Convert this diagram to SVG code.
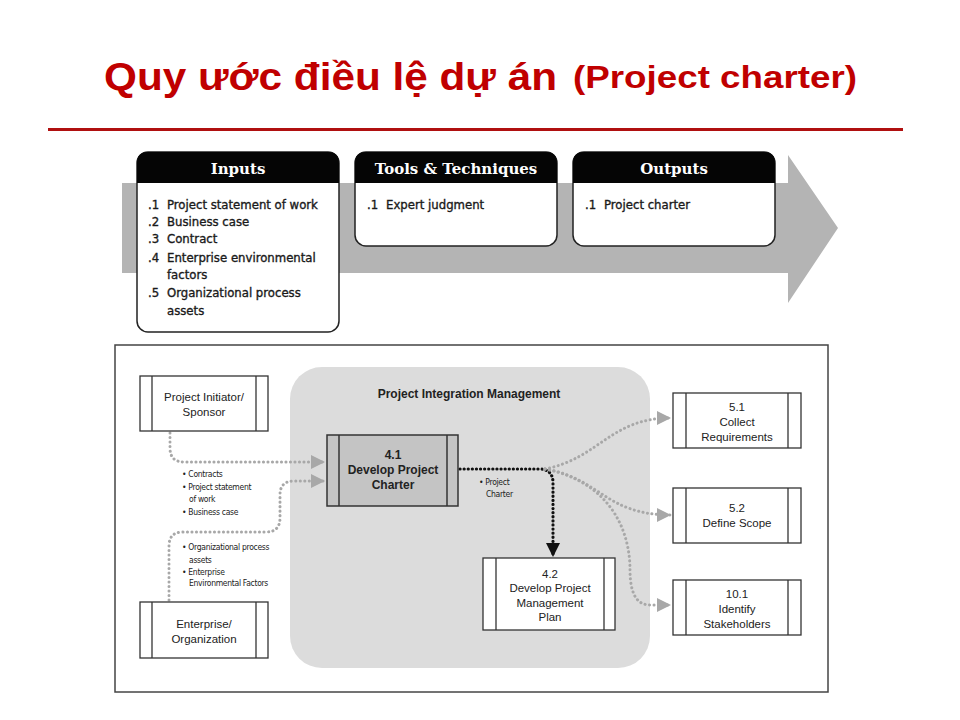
<svg xmlns="http://www.w3.org/2000/svg" width="960" height="720" viewBox="0 0 960 720">
<defs>
<style>
.title{font-family:"Liberation Sans",Arial,sans-serif;font-weight:bold;fill:#C00000}
.hdr{font-family:"DejaVu Serif",serif;font-weight:bold;font-size:15px;fill:#fff;text-anchor:middle}
.item{font-family:"DejaVu Sans Condensed","Liberation Sans",sans-serif;font-size:13px;fill:#1a1a1a;stroke:#1a1a1a;stroke-width:0.35}
.box{fill:#fff;stroke:#222;stroke-width:1.5}
.proc{fill:#fff;stroke:#333;stroke-width:1.3}
.lbl{font-family:"Liberation Sans",Arial,sans-serif;font-size:11.5px;fill:#222;text-anchor:middle}
.lblb{font-family:"Liberation Sans",Arial,sans-serif;font-size:12px;font-weight:bold;fill:#222;text-anchor:middle}
.small{font-family:"DejaVu Sans Condensed","Liberation Sans",sans-serif;font-size:8.5px;fill:#222;letter-spacing:-0.3px}
.gdot{fill:none;stroke:#a8a8a8;stroke-width:3;stroke-dasharray:0.1 4.4;stroke-linecap:round}
.bdot{fill:none;stroke:#111;stroke-width:3.2;stroke-dasharray:0.1 4;stroke-linecap:round}
</style>
<marker id="ga" viewBox="0 0 10 10" refX="10" refY="5" markerWidth="14" markerHeight="14" markerUnits="userSpaceOnUse" orient="auto"><path d="M0,0 L10,5 L0,10 z" fill="#a8a8a8"/></marker>
<marker id="ba" viewBox="0 0 10 10" refX="10" refY="5" markerWidth="14" markerHeight="14" markerUnits="userSpaceOnUse" orient="auto"><path d="M0,0 L10,5 L0,10 z" fill="#111"/></marker>
</defs>
<rect width="960" height="720" fill="#fff"/>

<g id="title">
<text x="104" y="90" class="title" font-size="39" textLength="453" lengthAdjust="spacingAndGlyphs">Quy ước điều lệ dự án</text>
<text x="573" y="88" class="title" font-size="31" textLength="284" lengthAdjust="spacingAndGlyphs">(Project charter)</text>
<rect x="48" y="128" width="855" height="3" fill="#B01010"/>
</g>

<g id="flow-arrow">
<path d="M122,183 L788,183 L788,155 L838,228 L788,303 L788,273 L122,273 z" fill="#b4b4b4"/>
</g>

<g id="inputs">
<rect x="137" y="152" width="202" height="180" rx="11" class="box"/>
<path d="M137,183 L137,163 Q137,152 148,152 L328,152 Q339,152 339,163 L339,183 z" fill="#050505"/>
<text x="238" y="174" class="hdr">Inputs</text>
<text class="item"><tspan x="148" y="209">.1</tspan><tspan x="167" y="209">Project statement of work</tspan></text>
<text class="item"><tspan x="148" y="226">.2</tspan><tspan x="167" y="226">Business case</tspan></text>
<text class="item"><tspan x="148" y="243">.3</tspan><tspan x="167" y="243">Contract</tspan></text>
<text class="item"><tspan x="148" y="262">.4</tspan><tspan x="167" y="262">Enterprise environmental</tspan></text>
<text class="item"><tspan x="167" y="279">factors</tspan></text>
<text class="item"><tspan x="148" y="297">.5</tspan><tspan x="167" y="297">Organizational process</tspan></text>
<text class="item"><tspan x="167" y="315">assets</tspan></text>
</g>

<g id="tools">
<rect x="355" y="152" width="202" height="94" rx="11" class="box"/>
<path d="M355,183 L355,163 Q355,152 366,152 L546,152 Q557,152 557,163 L557,183 z" fill="#050505"/>
<text x="456" y="174" class="hdr">Tools &amp; Techniques</text>
<text class="item"><tspan x="367" y="209">.1</tspan><tspan x="386" y="209">Expert judgment</tspan></text>
</g>

<g id="outputs">
<rect x="573" y="152" width="202" height="94" rx="11" class="box"/>
<path d="M573,183 L573,163 Q573,152 584,152 L764,152 Q775,152 775,163 L775,183 z" fill="#050505"/>
<text x="674" y="174" class="hdr">Outputs</text>
<text class="item"><tspan x="585" y="209">.1</tspan><tspan x="604" y="209">Project charter</tspan></text>
</g>

<g id="panel">
<rect x="115" y="345" width="713" height="347" fill="#fff" stroke="#444" stroke-width="1.5"/>
<rect x="290" y="367" width="360" height="301" rx="32" fill="#dcdcdc"/>
<text x="469" y="398" class="lblb" font-size="12.5">Project Integration Management</text>
</g>

<g id="connectors">
<path class="gdot" d="M170,433 L170,448 Q170,462 184,462 L325,462" marker-end="url(#ga)"/>
<path class="gdot" d="M169,600 L169,546 Q169,532 183,532 L266,532 Q280,532 280,518 L280,495 Q280,481 294,481 L325,481" marker-end="url(#ga)"/>
<path class="bdot" d="M460,469 L539,469 Q553,469 553,483 L553,557" marker-end="url(#ba)"/>
<path class="gdot" d="M545,469 C600,458 610,418 671,418" marker-end="url(#ga)"/>
<path class="gdot" d="M545,469 C600,478 605,515 671,515" marker-end="url(#ga)"/>
<path class="gdot" d="M545,469 C610,482 630,530 630,570 Q630,605 650,605 L671,605" marker-end="url(#ga)"/>
</g>

<g id="labels">
<text class="small"><tspan x="182" y="477">• Contracts</tspan></text>
<text class="small"><tspan x="182" y="490">• Project statement</tspan></text>
<text class="small"><tspan x="189" y="502">of work</tspan></text>
<text class="small"><tspan x="182" y="515">• Business case</tspan></text>
<text class="small"><tspan x="182" y="550">• Organizational process</tspan></text>
<text class="small"><tspan x="189" y="563">assets</tspan></text>
<text class="small"><tspan x="182" y="575">• Enterprise</tspan></text>
<text class="small"><tspan x="189" y="586">Environmental Factors</tspan></text>
<text class="small"><tspan x="479" y="485">• Project</tspan></text>
<text class="small"><tspan x="486" y="497">Charter</tspan></text>
</g>

<g id="initiator">
<rect x="140" y="376" width="128" height="55" class="proc"/>
<line x1="152" y1="376" x2="152" y2="431" stroke="#333" stroke-width="1.3"/>
<line x1="256" y1="376" x2="256" y2="431" stroke="#333" stroke-width="1.3"/>
<text class="lbl"><tspan x="204" y="401">Project Initiator/</tspan><tspan x="204" y="416">Sponsor</tspan></text>
</g>

<g id="enterprise">
<rect x="140" y="602" width="128" height="56" class="proc"/>
<line x1="152" y1="602" x2="152" y2="658" stroke="#333" stroke-width="1.3"/>
<line x1="256" y1="602" x2="256" y2="658" stroke="#333" stroke-width="1.3"/>
<text class="lbl"><tspan x="204" y="628">Enterprise/</tspan><tspan x="204" y="643">Organization</tspan></text>
</g>

<g id="p41">
<rect x="327" y="435" width="131" height="71" fill="#c4c4c4" stroke="#333" stroke-width="1.5"/>
<line x1="339" y1="435" x2="339" y2="506" stroke="#333" stroke-width="1.5"/>
<line x1="447" y1="435" x2="447" y2="506" stroke="#333" stroke-width="1.5"/>
<text class="lblb"><tspan x="393" y="459">4.1</tspan><tspan x="393" y="474">Develop Project</tspan><tspan x="393" y="489">Charter</tspan></text>
</g>

<g id="p42">
<rect x="483" y="558" width="132" height="72" class="proc"/>
<line x1="496" y1="558" x2="496" y2="630" stroke="#333" stroke-width="1.3"/>
<line x1="604" y1="558" x2="604" y2="630" stroke="#333" stroke-width="1.3"/>
<text class="lbl"><tspan x="550" y="578">4.2</tspan><tspan x="550" y="592">Develop Project</tspan><tspan x="550" y="607">Management</tspan><tspan x="550" y="621">Plan</tspan></text>
</g>

<g id="p51">
<rect x="673" y="393" width="128" height="55" class="proc"/>
<line x1="686" y1="393" x2="686" y2="448" stroke="#333" stroke-width="1.3"/>
<line x1="788" y1="393" x2="788" y2="448" stroke="#333" stroke-width="1.3"/>
<text class="lbl"><tspan x="737" y="411">5.1</tspan><tspan x="737" y="426">Collect</tspan><tspan x="737" y="441">Requirements</tspan></text>
</g>

<g id="p52">
<rect x="673" y="488" width="128" height="55" class="proc"/>
<line x1="686" y1="488" x2="686" y2="543" stroke="#333" stroke-width="1.3"/>
<line x1="788" y1="488" x2="788" y2="543" stroke="#333" stroke-width="1.3"/>
<text class="lbl"><tspan x="737" y="512">5.2</tspan><tspan x="737" y="527">Define Scope</tspan></text>
</g>

<g id="p101">
<rect x="673" y="580" width="128" height="55" class="proc"/>
<line x1="686" y1="580" x2="686" y2="635" stroke="#333" stroke-width="1.3"/>
<line x1="788" y1="580" x2="788" y2="635" stroke="#333" stroke-width="1.3"/>
<text class="lbl"><tspan x="737" y="598">10.1</tspan><tspan x="737" y="613">Identify</tspan><tspan x="737" y="628">Stakeholders</tspan></text>
</g>
</svg>
